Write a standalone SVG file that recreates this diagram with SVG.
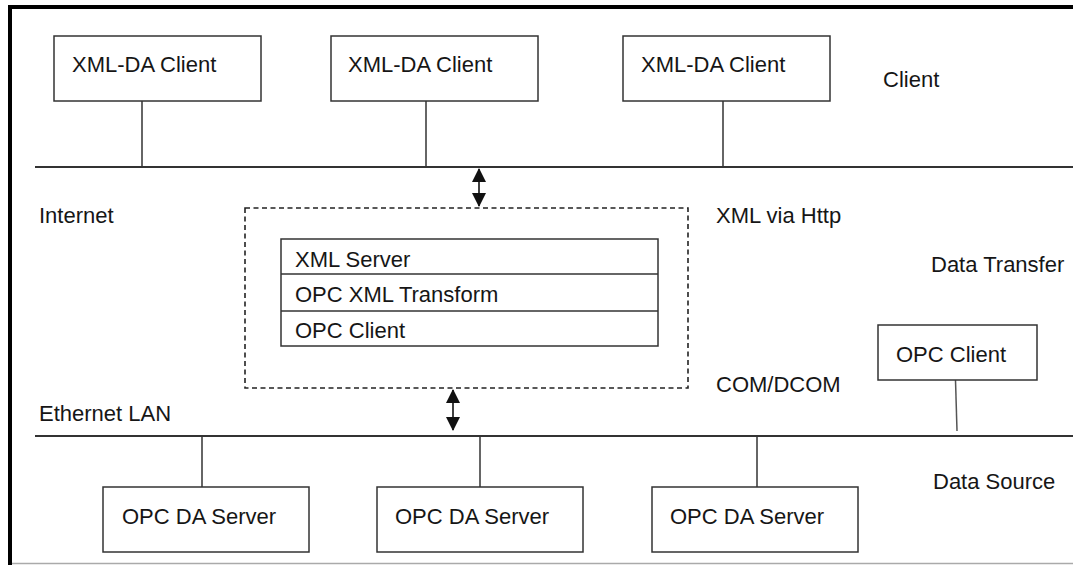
<svg xmlns="http://www.w3.org/2000/svg" width="1073" height="565" viewBox="0 0 1073 565">
  <style>
    .box { fill: #fff; stroke: #333; stroke-width: 1.5; }
    .bus { stroke: #333; stroke-width: 2; fill: none; }
    .link { stroke: #333; stroke-width: 1.5; fill: none; }
    .arrow { stroke: #111; stroke-width: 1.6; fill: none; }
    .dash { fill: none; stroke: #222; stroke-width: 1.6; stroke-dasharray: 5 3.5; }
    text { font-family: "Liberation Sans", Arial, sans-serif; font-size: 22px; fill: #161616; }
  </style>
  <defs>
    <marker id="head" viewBox="0 0 14 14" refX="13" refY="7" markerWidth="14" markerHeight="14" markerUnits="userSpaceOnUse" orient="auto-start-reverse">
      <path d="M0,0 L14,7 L0,14 Z" fill="#111"/>
    </marker>
  </defs>

  <rect width="1073" height="565" fill="#fff"/>

  <!-- frame -->
  <g id="frame">
    <line x1="10" y1="5" x2="10" y2="565" stroke="#000" stroke-width="4"/>
    <line x1="8" y1="7" x2="1073" y2="7" stroke="#000" stroke-width="4"/>
    <line x1="12" y1="563.5" x2="1073" y2="563.5" stroke="#aaa" stroke-width="1.5"/>
  </g>

  <!-- connectors -->
  <g id="connectors">
    <line class="bus" x1="35" y1="167" x2="1073" y2="167"/>
    <line class="bus" x1="35" y1="436" x2="1073" y2="436"/>
    <line class="link" x1="142" y1="101" x2="142" y2="167"/>
    <line class="link" x1="426" y1="101" x2="426" y2="167"/>
    <line class="link" x1="723" y1="101" x2="723" y2="167"/>
    <line class="link" x1="202" y1="436" x2="202" y2="487"/>
    <line class="link" x1="480" y1="436" x2="480" y2="487"/>
    <line class="link" x1="757" y1="436" x2="757" y2="487"/>
    <line x1="955.5" y1="380" x2="957" y2="431" stroke="#555" stroke-width="1.5"/>
    <line class="arrow" x1="479" y1="169" x2="479" y2="206" marker-start="url(#head)" marker-end="url(#head)"/>
    <line class="arrow" x1="453" y1="390" x2="453" y2="430" marker-start="url(#head)" marker-end="url(#head)"/>
  </g>

  <!-- client tier -->
  <g id="xml-da-client-1">
    <rect class="box" x="54" y="36" width="207" height="65"/>
    <text x="72" y="72">XML-DA Client</text>
  </g>
  <g id="xml-da-client-2">
    <rect class="box" x="331" y="36" width="207" height="65"/>
    <text x="348" y="72">XML-DA Client</text>
  </g>
  <g id="xml-da-client-3">
    <rect class="box" x="623" y="36" width="207" height="65"/>
    <text x="641" y="72">XML-DA Client</text>
  </g>

  <!-- gateway -->
  <g id="gateway">
    <rect class="dash" x="245" y="208" width="443" height="180"/>
  </g>
  <g id="gateway-stack">
    <rect class="box" x="281" y="239" width="377" height="107"/>
    <line class="link" x1="281" y1="274" x2="658" y2="274"/>
    <line class="link" x1="281" y1="311" x2="658" y2="311"/>
    <text x="295" y="267">XML Server</text>
    <text x="295" y="302">OPC XML Transform</text>
    <text x="295" y="338">OPC Client</text>
  </g>

  <g id="opc-client">
    <rect class="box" x="878" y="325" width="159" height="55"/>
    <text x="896" y="362">OPC Client</text>
  </g>

  <!-- data sources -->
  <g id="opc-da-server-1">
    <rect class="box" x="103" y="487" width="206" height="65"/>
    <text x="122" y="524">OPC DA Server</text>
  </g>
  <g id="opc-da-server-2">
    <rect class="box" x="377" y="487" width="206" height="65"/>
    <text x="395" y="524">OPC DA Server</text>
  </g>
  <g id="opc-da-server-3">
    <rect class="box" x="652" y="487" width="206" height="65"/>
    <text x="670" y="524">OPC DA Server</text>
  </g>

  <!-- layer labels -->
  <g id="labels">
    <text x="883" y="87">Client</text>
    <text x="39" y="223">Internet</text>
    <text x="716" y="223">XML via Http</text>
    <text x="931" y="272">Data Transfer</text>
    <text x="716" y="392">COM/DCOM</text>
    <text x="39" y="421">Ethernet LAN</text>
    <text x="933" y="489">Data Source</text>
  </g>
</svg>
